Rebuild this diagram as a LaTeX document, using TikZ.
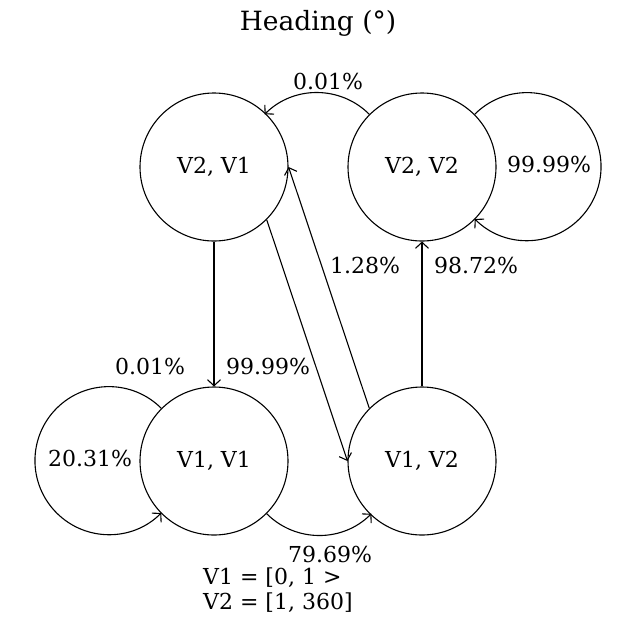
\documentclass[tikz,border=0pt]{standalone}
\usepackage{fontspec}
\setmainfont{DejaVu Serif}
\usetikzlibrary{arrows.meta}
\begin{document}
\begin{tikzpicture}[x=1pt,y=1pt]
\tikzstyle{state}=[draw, circle, line width=1.1pt, minimum size=148pt, inner sep=0pt, font=\fontsize{22}{26}\selectfont]
\tikzstyle{line}=[draw, line width=1.1pt, -{Straight Barb[length=6pt,width=13pt,line width=1.1pt]}]
\tikzstyle{prob}=[font=\fontsize{22}{25}\selectfont, inner sep=0pt]
\useasboundingbox (0,0) rectangle (636,-622);

% Title
\node[font=\fontsize{26.5}{30}\selectfont] (title) at (318,-23) {Heading (°)};

% Define states
\node[state] (s21) at (214,-167) {V2, V1};
\node[state] (s22) at (422,-167) {V2, V2};
\node[state] (s11) at (214,-461) {V1, V1};
\node[state] (s12) at (422,-461) {V1, V2};

% Self loops
\draw[line] (s22.45) arc[start angle=135, end angle=-135, radius=74];
\draw[line] (s11.135) arc[start angle=45, end angle=315, radius=74];

% Transitions
\draw[line] (s22.135) arc[start angle=45, end angle=135, radius=74];
\draw[line] (s11.-45) arc[start angle=225, end angle=315, radius=74];
\draw[line] (s21) -- (s11);
\draw[line] (s21.-45) -- (s12.180);
\draw[line] (s12.135) -- (s21.0);
\draw[line] (s12) -- (s22);

% Probabilities
\node[prob] (p2221) at (328,-81) {0.01\%};
\node[prob] (p2222) at (549,-164) {99.99\%};
\node[prob] (p1221) at (365,-265) {1.28\%};
\node[prob] (p1222) at (476,-265) {98.72\%};
\node[prob] (p2112) at (150,-366) {0.01\%};
\node[prob] (p2111) at (268,-366) {99.99\%};
\node[prob] (p1111) at (90,-458) {20.31\%};
\node[prob] (p1112) at (330,-554) {79.69\%};

% Legend
\node[prob, anchor=west, align=left] (legend) at (203,-590) {V1 = [0, 1 >\\V2 = [1, 360]};
\end{tikzpicture}
\end{document}
